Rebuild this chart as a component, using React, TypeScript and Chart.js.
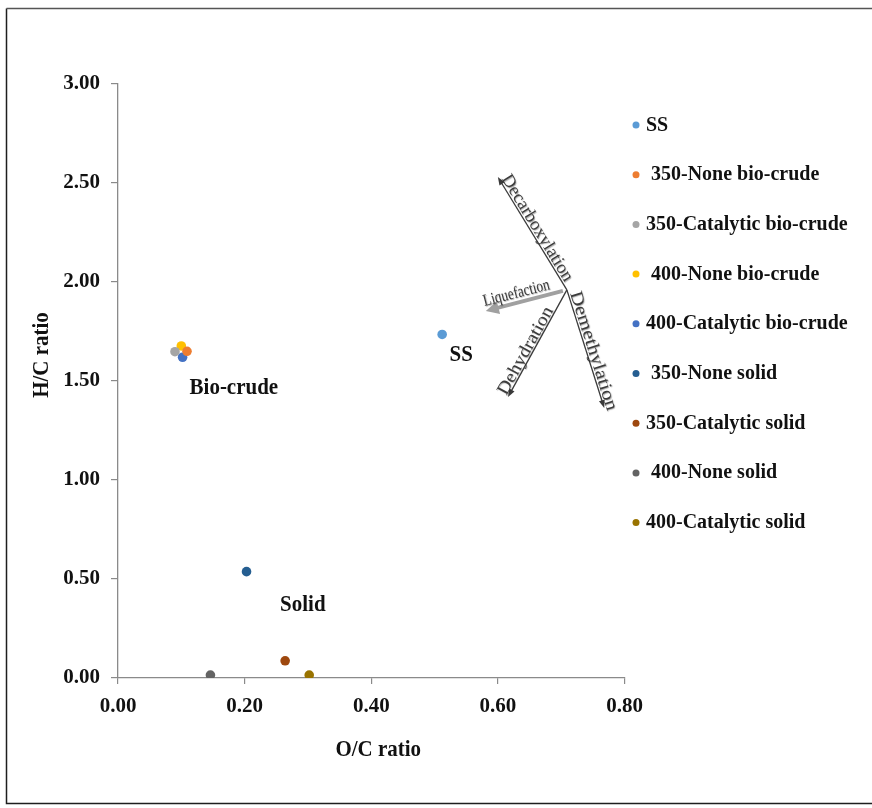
import React, { useEffect, useRef } from "react";
import { Chart, registerables } from "chart.js";

Chart.register(...registerables);

// Van Krevelen diagram: atomic H/C vs O/C for the feedstock (SS), bio-crudes and solids.
const seriesNames = [
  "SS",
  " 350-None bio-crude",
  "350-Catalytic bio-crude",
  " 400-None bio-crude",
  "400-Catalytic bio-crude",
  " 350-None solid",
  "350-Catalytic solid",
  " 400-None solid",
  "400-Catalytic solid",
];
const seriesColors = [
  "#5B9BD5",
  "#ED7D31",
  "#A5A5A5",
  "#FFC000",
  "#4472C4",
  "#255E91",
  "#9E480E",
  "#636363",
  "#997300",
];
const ocRatio = [0.512, 0.109, 0.09, 0.1, 0.102, 0.203, 0.264, 0.146, 0.302];
const hcRatio = [1.735, 1.65, 1.648, 1.677, 1.62, 0.537, 0.087, 0.015, 0.015];

// Axis ranges and tick steps
const xMin = 0;
const xMax = 0.8;
const xStep = 0.2;
const yMin = 0;
const yMax = 3;
const yStep = 0.5;
const xTitle = "O/C ratio";
const yTitle = "H/C ratio";

// Group captions placed in data units
const groupCaptions = ["Bio-crude", "SS", "Solid"];
const groupCaptionX = [0.183, 0.542, 0.292];
const groupCaptionY = [1.465, 1.631, 0.369];

// Reaction pathway arrows radiating from a common origin (data units)
const pathwayOrigin = { x: 0.709, y: 1.96 };
const pathwayNames = ["Decarboxylation", "Demethylation", "Dehydration", "Liquefaction"];
const pathwayTipX = [0.6, 0.768, 0.616, 0.581];
const pathwayTipY = [2.53, 1.364, 1.419, 1.854];

const SERIF = '"Liberation Serif", "Times New Roman", serif';

type TextOpts = {
  size: number;
  weight?: string;
  align?: CanvasTextAlign;
  baseline?: CanvasTextBaseline;
  angle?: number;
  sx?: number;
  sy?: number;
  color?: string;
};

function drawText(ctx: CanvasRenderingContext2D, text: string, x: number, y: number, o: TextOpts) {
  ctx.save();
  ctx.translate(x, y);
  ctx.rotate(o.angle || 0);
  ctx.scale(o.sx || 1, o.sy || 1);
  ctx.font = `${o.weight || "bold"} ${o.size}px ${SERIF}`;
  ctx.textAlign = o.align || "left";
  ctx.textBaseline = o.baseline || "alphabetic";
  ctx.fillStyle = o.color || "#111";
  ctx.fillText(text, 0, 0);
  ctx.restore();
}

function drawArrow(
  ctx: CanvasRenderingContext2D,
  x0: number,
  y0: number,
  x1: number,
  y1: number,
  width: number,
  color: string,
  headLen: number,
  headHalf: number
) {
  const dx = x1 - x0;
  const dy = y1 - y0;
  const len = Math.hypot(dx, dy);
  const ux = dx / len;
  const uy = dy / len;
  const bx = x1 - ux * headLen;
  const by = y1 - uy * headLen;
  ctx.save();
  ctx.strokeStyle = color;
  ctx.fillStyle = color;
  ctx.lineWidth = width;
  ctx.beginPath();
  ctx.moveTo(x0, y0);
  ctx.lineTo(bx + ux * 1, by + uy * 1);
  ctx.stroke();
  ctx.beginPath();
  ctx.moveTo(x1, y1);
  ctx.lineTo(bx - uy * headHalf, by + ux * headHalf);
  ctx.lineTo(bx + uy * headHalf, by - ux * headHalf);
  ctx.closePath();
  ctx.fill();
  ctx.restore();
}

const decorPlugin = {
  id: "decor",
  afterDraw(chart: any) {
    const ctx: CanvasRenderingContext2D = chart.ctx;
    const xs = chart.scales.x;
    const ys = chart.scales.y;
    const area = chart.chartArea;

    // Outer frame (left, bottom and top edges)
    ctx.save();
    ctx.lineWidth = 1.5;
    ctx.strokeStyle = "#1e1e1e";
    ctx.beginPath();
    ctx.moveTo(6.5, 8.5);
    ctx.lineTo(6.5, 803.5);
    ctx.lineTo(872, 803.5);
    ctx.stroke();
    ctx.strokeStyle = "#555";
    ctx.beginPath();
    ctx.moveTo(6.5, 8.5);
    ctx.lineTo(872, 8.5);
    ctx.stroke();
    ctx.restore();

    // Axis titles
    drawText(ctx, xTitle, (area.left + area.right) / 2 + 7, 756, {
      size: 21,
      align: "center",
      sy: 1.08,
    });
    drawText(ctx, yTitle, 48, 355, {
      size: 21,
      align: "center",
      angle: -Math.PI / 2,
      sy: 1.05,
    });

    // Group captions
    groupCaptions.forEach((t, i) => {
      drawText(ctx, t, xs.getPixelForValue(groupCaptionX[i]), ys.getPixelForValue(groupCaptionY[i]), {
        size: 21,
        align: "center",
        baseline: "middle",
        sy: 1.12,
      });
    });

    // Pathway arrows
    const ox = xs.getPixelForValue(pathwayOrigin.x);
    const oy = ys.getPixelForValue(pathwayOrigin.y);
    const labelSize = [16, 16, 16, 15];
    const labelLen = [122, 124, 98, 68];
    pathwayNames.forEach((name, i) => {
      const tx = xs.getPixelForValue(pathwayTipX[i]);
      const ty = ys.getPixelForValue(pathwayTipY[i]);
      const thick = name === "Liquefaction";
      if (thick) {
        drawArrow(ctx, ox - 4, oy + 1, tx, ty, 4, "#a0a0a0", 13, 6.5);
      } else {
        drawArrow(ctx, ox, oy, tx, ty, 1.3, "#3a3a3a", 8, 3);
      }
      // text runs along the line, reading left to right
      let sxp = tx;
      let syp = ty;
      let exp = ox;
      let eyp = oy;
      if (name === "Demethylation") {
        sxp = ox;
        syp = oy;
        exp = tx;
        eyp = ty;
      }
      const ang = Math.atan2(eyp - syp, exp - sxp);
      ctx.save();
      ctx.font = `normal ${labelSize[i]}px ${SERIF}`;
      const w = ctx.measureText(name).width;
      ctx.restore();
      const sx = labelLen[i] / w;
      // normal pointing to the text's upper side
      const nx = Math.sin(ang);
      const ny = -Math.cos(ang);
      const off = thick ? 5 : 2;
      const startShift = name === "Demethylation" ? 4 : name === "Decarboxylation" ? 3 : 0;
      const px = sxp + Math.cos(ang) * startShift + nx * off;
      const py = syp + Math.sin(ang) * startShift + ny * off;
      ctx.save();
      ctx.shadowColor = "rgba(0,0,0,0.35)";
      ctx.shadowOffsetX = 0.8;
      ctx.shadowOffsetY = 0.8;
      ctx.shadowBlur = 1;
      drawText(ctx, name, px, py, {
        size: labelSize[i],
        weight: "normal",
        angle: ang,
        sx,
        sy: 1.12,
        color: "#3c3c3c",
      });
      ctx.restore();
    });

    // Legend
    chart.data.datasets.forEach((ds: any, i: number) => {
      const cy = 125 + i * 49.7;
      ctx.save();
      ctx.fillStyle = ds.backgroundColor;
      ctx.beginPath();
      ctx.arc(636, cy, 3.5, 0, Math.PI * 2);
      ctx.fill();
      ctx.restore();
      drawText(ctx, ds.label, 646, cy, {
        size: 20,
        baseline: "middle",
        sy: 1.08,
      });
    });
  },
};

export default function App() {
  const canvasRef = useRef<HTMLCanvasElement | null>(null);

  useEffect(() => {
    if (!canvasRef.current) return;
    const chart = new Chart(canvasRef.current, {
      type: "scatter",
      data: {
        datasets: seriesNames.map((name, i) => ({
          label: name,
          data: [{ x: ocRatio[i], y: hcRatio[i] }],
          backgroundColor: seriesColors[i],
          borderColor: seriesColors[i],
          borderWidth: 0,
          pointRadius: 4.8,
          pointHoverRadius: 4.8,
        })),
      },
      options: {
        animation: false,
        responsive: true,
        maintainAspectRatio: false,
        layout: { padding: { left: 0, top: 84, right: 247.5, bottom: 0 } },
        plugins: {
          legend: { display: false },
          tooltip: { enabled: false },
        },
        scales: {
          x: {
            type: "linear",
            min: xMin,
            max: xMax,
            afterFit: (scale: any) => {
              scale.height = 130;
            },
            ticks: {
              stepSize: xStep,
              padding: 10,
              color: "#111",
              font: { family: SERIF, size: 21, weight: "bold" },
              callback: (v: any) => Number(v).toFixed(2),
            },
            grid: {
              drawOnChartArea: false,
              drawTicks: true,
              tickLength: 6,
              color: "#8a8a8a",
              lineWidth: 1.2,
            },
            border: { display: true, color: "#8a8a8a", width: 1.3 },
          },
          y: {
            type: "linear",
            min: yMin,
            max: yMax,
            afterFit: (scale: any) => {
              scale.width = 118;
            },
            ticks: {
              stepSize: yStep,
              padding: 11,
              color: "#111",
              font: { family: SERIF, size: 21, weight: "bold" },
              callback: (v: any) => Number(v).toFixed(2),
            },
            grid: {
              drawOnChartArea: false,
              drawTicks: true,
              tickLength: 7,
              color: "#8a8a8a",
              lineWidth: 1.2,
            },
            border: { display: true, color: "#8a8a8a", width: 1.3 },
          },
        },
      },
      plugins: [decorPlugin],
    });
    return () => chart.destroy();
  }, []);

  return (
    <div style={{ position: "absolute", left: 0, top: 0, width: 872, height: 808, background: "#fff" }}>
      <canvas ref={canvasRef} />
    </div>
  );
}
